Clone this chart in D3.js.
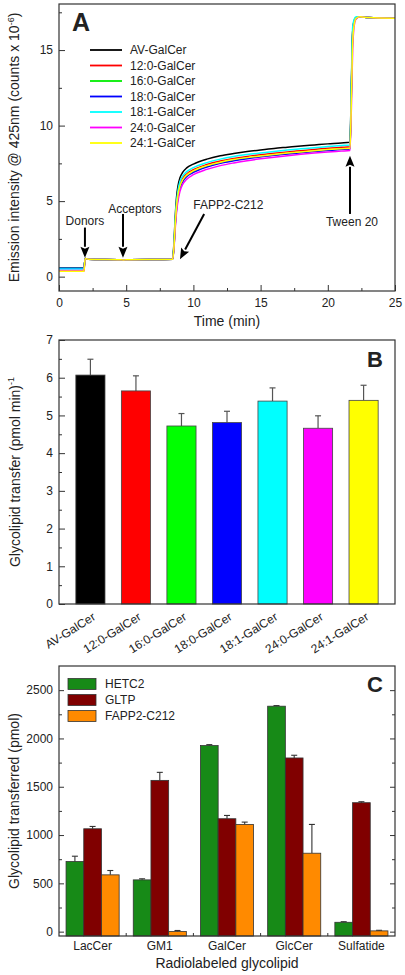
<!DOCTYPE html>
<html><head><meta charset="utf-8">
<script src="https://cdn.jsdelivr.net/npm/d3@7"></script>
<style>
html,body{margin:0;padding:0;background:#fff;}
svg text{font-family:"Liberation Sans",Arial,Helvetica,sans-serif;fill:#222;}
</style></head>
<body>
<svg id="chart" width="405" height="975"></svg>
<script>
// ---------- Panel A data ----------
const timeMin = [0, 1.85, 1.95, 2.2, 4.6, 4.8, 5.0, 8.45, 8.55, 8.65, 8.75, 8.85, 9.0, 9.2, 9.5, 10, 11, 12, 13, 14, 15, 16, 17, 18, 19, 20, 21, 21.65, 21.75, 21.85, 21.95, 22.1, 22.4, 23, 25];
const seriesNames = ["AV-GalCer","12:0-GalCer","16:0-GalCer","18:0-GalCer","18:1-GalCer","24:0-GalCer","24:1-GalCer"];
const seriesColors = ["#000000","#ff0000","#00ee00","#0000ff","#00ffff","#ff00ff","#ffff00"];
const avGalCer   = [0.55,0.55,1.2,1.15,1.12,1.1,1.12,1.15,2.2,4.0,5.3,6.0,6.55,6.9,7.2,7.45,7.78,8.0,8.15,8.28,8.39,8.49,8.57,8.65,8.72,8.79,8.85,8.9,12.5,16.2,16.9,17.15,17.2,17.15,17.1];
const galCer12_0 = [0.35,0.35,1.2,1.15,1.12,1.1,1.12,1.15,2.0,3.6,4.8,5.5,6.1,6.5,6.8,7.08,7.42,7.65,7.82,7.96,8.07,8.17,8.26,8.34,8.42,8.5,8.56,8.6,12.3,16.2,16.9,17.15,17.2,17.15,17.1];
const galCer16_0 = [0.55,0.55,1.2,1.15,1.12,1.1,1.12,1.15,1.9,3.5,4.6,5.3,5.95,6.35,6.68,6.95,7.3,7.54,7.71,7.85,7.96,8.06,8.15,8.23,8.31,8.38,8.45,8.48,12.0,16.0,16.8,17.1,17.2,17.15,17.1];
const galCer18_0 = [0.55,0.55,1.2,1.15,1.12,1.1,1.12,1.15,1.9,3.4,4.5,5.2,5.85,6.28,6.62,6.9,7.26,7.5,7.67,7.81,7.93,8.03,8.12,8.2,8.28,8.35,8.42,8.45,12.0,16.0,16.8,17.1,17.2,17.15,17.1];
const galCer18_1 = [0.5,0.5,1.2,1.15,1.12,1.1,1.12,1.15,2.1,3.8,5.0,5.7,6.3,6.65,6.95,7.22,7.55,7.78,7.95,8.08,8.19,8.29,8.38,8.46,8.54,8.61,8.68,8.72,12.8,16.5,17.0,17.2,17.2,17.15,17.1];
const galCer24_0 = [0.4,0.4,1.2,1.15,1.12,1.1,1.12,1.15,1.8,3.2,4.3,5.0,5.65,6.1,6.45,6.75,7.1,7.35,7.53,7.68,7.8,7.91,8.01,8.1,8.18,8.25,8.31,8.35,11.0,15.0,16.5,17.05,17.2,17.15,17.1];
const galCer24_1 = [0.35,0.35,1.2,1.15,1.12,1.1,1.12,1.15,1.9,3.5,4.7,5.4,6.0,6.4,6.72,7.0,7.35,7.58,7.75,7.88,7.99,8.09,8.18,8.26,8.34,8.41,8.47,8.5,11.5,15.5,16.6,17.1,17.2,17.15,17.1];
const seriesValues = [avGalCer, galCer12_0, galCer16_0, galCer18_0, galCer18_1, galCer24_0, galCer24_1];
const xTicksA = [0,5,10,15,20,25];
const yTicksA = [0,5,10,15];
// annotations: [label, arrowFromT, arrowFromV, arrowToT, arrowToV, labelT, labelV]
const annotLabels = ["Donors","Acceptors","FAPP2-C212","Tween 20"];
const annotFrom = [[1.93,3.25],[4.76,4.15],[10.8,4.15],[21.65,4.15]];
const annotTo   = [[1.93,1.25],[4.76,1.25],[9.0,1.15],[21.65,8.0]];
const annotText = [[1.93,3.45],[5.65,4.2],[12.6,4.5],[21.8,3.35]];

// ---------- Panel B data ----------
const bCategories = ["AV-GalCer","12:0-GalCer","16:0-GalCer","18:0-GalCer","18:1-GalCer","24:0-GalCer","24:1-GalCer"];
const bValues = [6.07, 5.65, 4.72, 4.81, 5.38, 4.66, 5.40];
const bErrors = [0.42, 0.40, 0.33, 0.30, 0.35, 0.33, 0.40];
const bColors = ["#000000","#ff0000","#00ff00","#0000ff","#00ffff","#ff00ff","#ffff00"];
const yTicksB = [0,1,2,3,4,5,6,7];

// ---------- Panel C data ----------
const cCategories = ["LacCer","GM1","GalCer","GlcCer","Sulfatide"];
const cSeries = ["HETC2","GLTP","FAPP2-C212"];
const cColors = ["#178a17","#800000","#ff8a00"];
const hetc2 = [726, 536, 1926, 2334, 97];
const hetc2Err = [55, 11, 10, 6, 6];
const gltp = [1065, 1566, 1169, 1798, 1335];
const gltpErr = [24, 83, 34, 28, 10];
const fapp2 = [588, 2, 1110, 812, 8];
const fapp2Err = [45, 10, 24, 298, 6];
const yTicksC = [0,500,1000,1500,2000,2500];

const svg = d3.select("#chart");
svg.append("rect").attr("width",405).attr("height",975).attr("fill","#fff");
const L = 59, R = 395;
const frameColor = "#333";

function frame(top, bottom){
  svg.append("rect").attr("x",L).attr("y",top).attr("width",R-L).attr("height",bottom-top)
    .attr("fill","none").attr("stroke",frameColor).attr("stroke-width",1.2);
}
function styleAxis(g){
  g.select(".domain").remove();
  g.selectAll("line").attr("stroke",frameColor).attr("stroke-width",1);
  g.selectAll("text").attr("font-size",12).attr("fill","#222")
   .style("font-family","'Liberation Sans',Arial,sans-serif");
}

// ================= Panel A =================
const topA = 4, botA = 291;
const xA = d3.scaleLinear().domain([0,25]).range([L,R]);
const yA = d3.scaleLinear().domain([-0.95,18.05]).range([botA,topA]);

const gA = svg.append("g");
// lines
const line = d3.line().x((d,i)=>xA(timeMin[i])).y(d=>yA(d)).curve(d3.curveMonotoneX);
seriesValues.forEach((vals,k)=>{
  gA.append("path").datum(vals).attr("d",line).attr("fill","none")
    .attr("stroke",seriesColors[k]).attr("stroke-width",1.5);
});
frame(topA,botA);
// axes
svg.append("g").attr("transform",`translate(0,${botA})`)
  .call(d3.axisBottom(xA).tickValues([2.5,7.5,12.5,17.5,22.5]).tickSize(-3).tickFormat(""))
  .call(styleAxis);
svg.append("g").attr("transform",`translate(0,${botA})`)
  .call(d3.axisBottom(xA).tickValues(xTicksA).tickSize(-6).tickPadding(7).tickFormat(d3.format("d")))
  .call(styleAxis);
svg.append("g").attr("transform",`translate(${L},0)`)
  .call(d3.axisLeft(yA).tickValues([2.5,7.5,12.5,17.5]).tickSize(-3).tickFormat(""))
  .call(styleAxis);
svg.append("g").attr("transform",`translate(${L},0)`)
  .call(d3.axisLeft(yA).tickValues(yTicksA).tickSize(-6).tickPadding(6).tickFormat(d3.format("d")))
  .call(styleAxis);
// titles
svg.append("text").attr("x",(L+R)/2).attr("y",326).attr("text-anchor","middle").attr("font-size",14).text("Time (min)");
const tA = svg.append("text").attr("transform",`translate(19,${(topA+botA)/2}) rotate(-90)`)
  .attr("text-anchor","middle").attr("font-size",14);
tA.append("tspan").text("Emission intensity @ 425nm (counts x 10");
tA.append("tspan").attr("font-size",9).attr("dy",-5).text("-6");
tA.append("tspan").attr("dy",5).text(")");
svg.append("text").attr("x",72).attr("y",31).attr("font-size",25).attr("font-weight","bold").attr("fill","#000").text("A");
// legend
seriesNames.forEach((n,k)=>{
  const yy = 50 + k*15.5;
  svg.append("line").attr("x1",90).attr("x2",122).attr("y1",yy).attr("y2",yy)
    .attr("stroke",seriesColors[k]).attr("stroke-width",1.8);
  svg.append("text").attr("x",130).attr("y",yy).attr("dy","0.36em").attr("font-size",12).text(n);
});
// annotations
function arrow(x1,y1,x2,y2){
  const ang = Math.atan2(y2-y1,x2-x1);
  const hl = 11, hw = 4.5;
  const bx = x2 - hl*Math.cos(ang), by = y2 - hl*Math.sin(ang);
  svg.append("line").attr("x1",x1).attr("y1",y1).attr("x2",bx).attr("y2",by)
    .attr("stroke","#000").attr("stroke-width",2);
  const px = -Math.sin(ang), py = Math.cos(ang);
  svg.append("path").attr("d",`M${x2},${y2}L${bx+hw*px},${by+hw*py}L${bx+2*Math.cos(ang)},${by+2*Math.sin(ang)}L${bx-hw*px},${by-hw*py}Z`)
    .attr("fill","#000");
}
annotLabels.forEach((lab,i)=>{
  arrow(xA(annotFrom[i][0]),yA(annotFrom[i][1]),xA(annotTo[i][0]),yA(annotTo[i][1]));
  svg.append("text").attr("x",xA(annotText[i][0])).attr("y",yA(annotText[i][1]))
    .attr("text-anchor","middle").attr("font-size",12).text(lab);
});

// ================= Panel B =================
const topB = 340, botB = 604;
const xB = d3.scaleBand().domain(bCategories).range([L,R]).paddingInner(0.36).paddingOuter(0.37);
const yB = d3.scaleLinear().domain([0,7]).range([botB,topB]);
bCategories.forEach((c,i)=>{
  const x0 = xB(c), w = xB.bandwidth(), cx = x0 + w/2;
  svg.append("line").attr("x1",cx).attr("x2",cx).attr("y1",yB(bValues[i])).attr("y2",yB(bValues[i]+bErrors[i]))
    .attr("stroke","#555").attr("stroke-width",1.2);
  svg.append("line").attr("x1",cx-3).attr("x2",cx+3).attr("y1",yB(bValues[i]+bErrors[i])).attr("y2",yB(bValues[i]+bErrors[i]))
    .attr("stroke","#555").attr("stroke-width",1.2);
  svg.append("rect").attr("x",x0).attr("y",yB(bValues[i])).attr("width",w).attr("height",yB(0)-yB(bValues[i]))
    .attr("fill",bColors[i]).attr("stroke","#444").attr("stroke-width",0.8);
});
frame(topB,botB);
svg.append("g").attr("transform",`translate(${L},0)`)
  .call(d3.axisLeft(yB).tickValues([0.5,1.5,2.5,3.5,4.5,5.5,6.5]).tickSize(-3).tickFormat(""))
  .call(styleAxis);
svg.append("g").attr("transform",`translate(${L},0)`)
  .call(d3.axisLeft(yB).tickValues(yTicksB).tickSize(-6).tickPadding(6).tickFormat(d3.format("d")))
  .call(styleAxis);
bCategories.forEach((c)=>{
  const cx = xB(c)+xB.bandwidth()/2;
  svg.append("text").attr("transform",`translate(${cx+6},${619}) rotate(-32)`)
    .attr("text-anchor","end").attr("font-size",12).text(c);
});
const tB = svg.append("text").attr("transform",`translate(20,${(topB+botB)/2}) rotate(-90)`)
  .attr("text-anchor","middle").attr("font-size",14);
tB.append("tspan").text("Glycolipid transfer (pmol min)");
tB.append("tspan").attr("font-size",9).attr("dy",-6).text("-1");
svg.append("text").attr("x",367).attr("y",367).attr("font-size",22).attr("font-weight","bold").attr("fill","#000").text("B");

// ================= Panel C =================
const topC = 666, botC = 936;
const xC = d3.scaleBand().domain(cCategories).range([L,R]).paddingInner(0.21).paddingOuter(0.105);
const xSub = d3.scaleBand().domain(cSeries).range([0,xC.bandwidth()]);
const yC = d3.scaleLinear().domain([-45,2750]).range([botC,topC]);
const cVals = [hetc2,gltp,fapp2], cErrs = [hetc2Err,gltpErr,fapp2Err];
cCategories.forEach((c,i)=>{
  cSeries.forEach((s,k)=>{
    const x0 = xC(c)+xSub(s), w = xSub.bandwidth(), cx = x0+w/2;
    const v = cVals[k][i], e = cErrs[k][i];
    svg.append("line").attr("x1",cx).attr("x2",cx).attr("y1",yC(v)).attr("y2",yC(v+e))
      .attr("stroke","#333").attr("stroke-width",1.1);
    svg.append("line").attr("x1",cx-3).attr("x2",cx+3).attr("y1",yC(v+e)).attr("y2",yC(v+e))
      .attr("stroke","#333").attr("stroke-width",1.1);
    svg.append("rect").attr("x",x0).attr("y",yC(v)).attr("width",w).attr("height",botC-yC(v))
      .attr("fill",cColors[k]).attr("stroke","#333").attr("stroke-width",0.8);
  });
});
frame(topC,botC);
const minorC = [250,750,1250,1750,2250];
svg.append("g").attr("transform",`translate(${L},0)`)
  .call(d3.axisLeft(yC).tickValues(minorC).tickSize(-3).tickFormat("")).call(styleAxis);
svg.append("g").attr("transform",`translate(${L},0)`)
  .call(d3.axisLeft(yC).tickValues(yTicksC).tickSize(-5).tickPadding(6).tickFormat(d3.format("d")))
  .call(styleAxis);
svg.append("g").attr("transform",`translate(${R},0)`)
  .call(d3.axisRight(yC).tickValues(minorC).tickSize(-3).tickFormat("")).call(styleAxis);
svg.append("g").attr("transform",`translate(${R},0)`)
  .call(d3.axisRight(yC).tickValues(yTicksC).tickSize(-5).tickFormat("")).call(styleAxis);
// group separator ticks and category labels
const stepC = xC.step();
cCategories.forEach((c,i)=>{
  const cx = xC(c)+xC.bandwidth()/2;
  if(i>0){
    const bx = cx - stepC/2;
    svg.append("line").attr("x1",bx).attr("x2",bx).attr("y1",botC).attr("y2",botC-3)
      .attr("stroke",frameColor).attr("stroke-width",1);
  }
  svg.append("text").attr("x",cx).attr("y",950).attr("text-anchor","middle").attr("font-size",12).text(c);
});
svg.append("text").attr("x",(L+R)/2).attr("y",968).attr("text-anchor","middle").attr("font-size",14).text("Radiolabeled glycolipid");
svg.append("text").attr("transform",`translate(19,${(topC+botC)/2}) rotate(-90)`)
  .attr("text-anchor","middle").attr("font-size",14).text("Glycolipid transferred (pmol)");
svg.append("text").attr("x",367).attr("y",692).attr("font-size",22).attr("font-weight","bold").attr("fill","#000").text("C");
cSeries.forEach((s,k)=>{
  const yy = 684 + k*16;
  svg.append("rect").attr("x",68).attr("y",yy-5.5).attr("width",28).attr("height",11)
    .attr("fill",cColors[k]).attr("stroke","#333").attr("stroke-width",0.8);
  svg.append("text").attr("x",105).attr("y",yy).attr("dy","0.36em").attr("font-size",12).text(s);
});
</script>
</body></html>
